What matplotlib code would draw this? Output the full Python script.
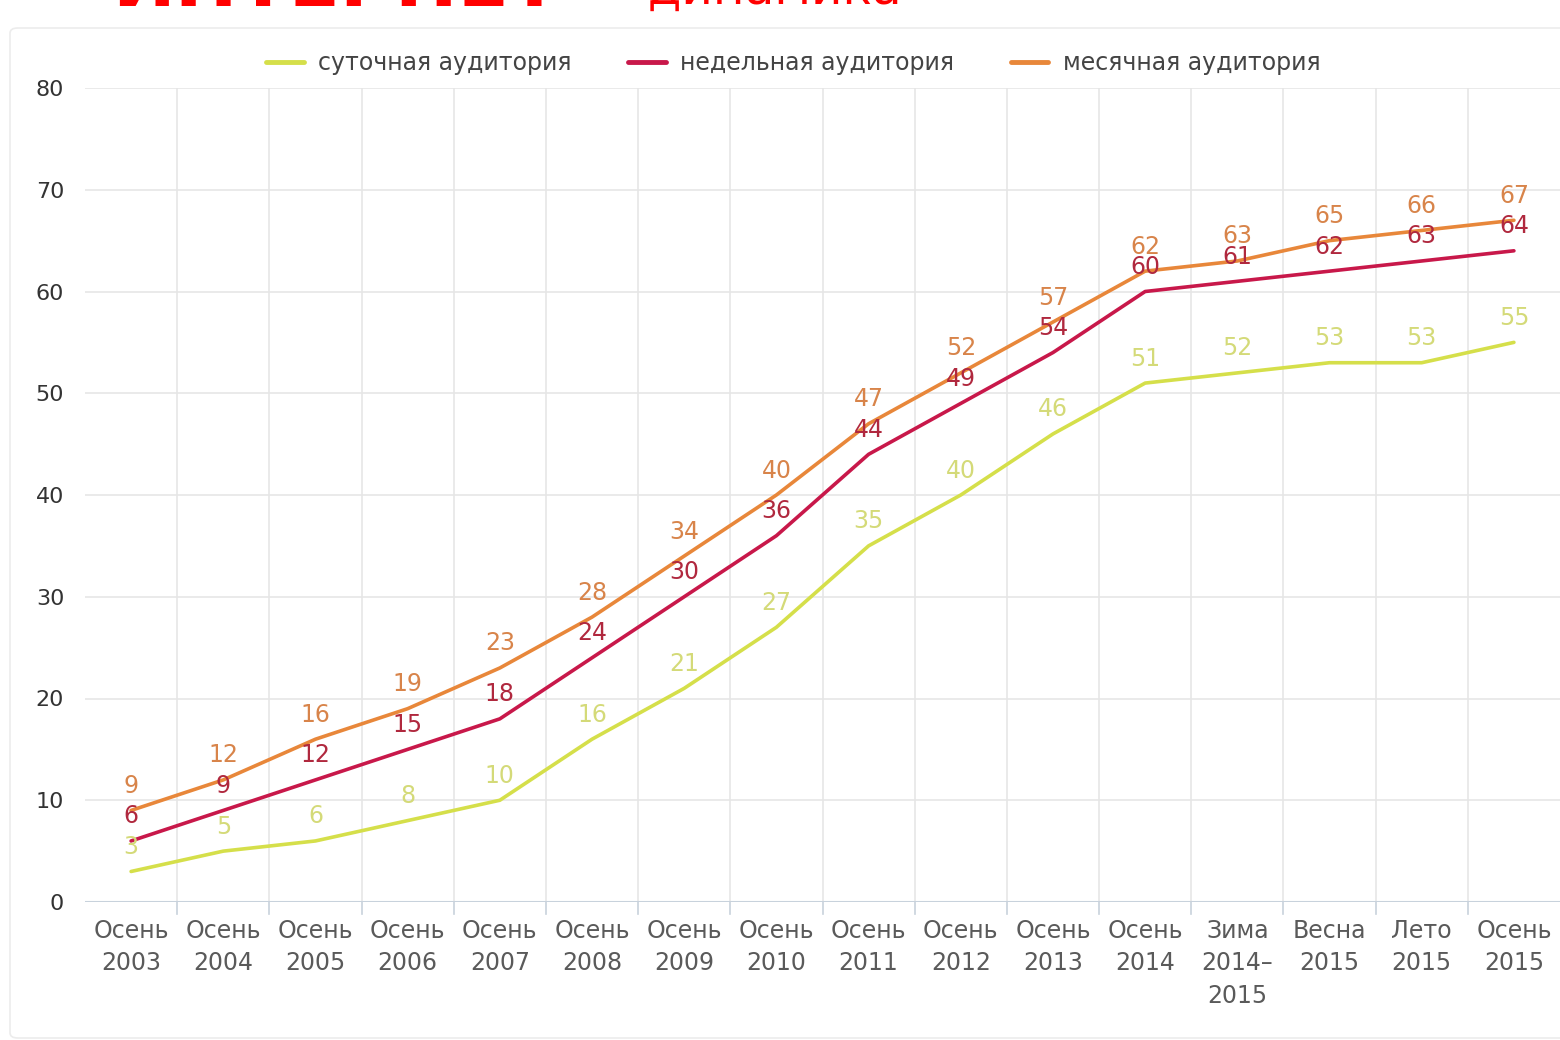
import matplotlib
matplotlib.use("Agg")
import matplotlib.pyplot as plt
from matplotlib.patches import FancyBboxPatch

categories = ["Осень\n2003", "Осень\n2004", "Осень\n2005", "Осень\n2006", "Осень\n2007",
              "Осень\n2008", "Осень\n2009", "Осень\n2010", "Осень\n2011", "Осень\n2012",
              "Осень\n2013", "Осень\n2014", "Зима\n2014–\n2015", "Весна\n2015", "Лето\n2015",
              "Осень\n2015"]
daily = [3, 5, 6, 8, 10, 16, 21, 27, 35, 40, 46, 51, 52, 53, 53, 55]
weekly = [6, 9, 12, 15, 18, 24, 30, 36, 44, 49, 54, 60, 61, 62, 63, 64]
monthly = [9, 12, 16, 19, 23, 28, 34, 40, 47, 52, 57, 62, 63, 65, 66, 67]
series_names = ["суточная аудитория", "недельная аудитория", "месячная аудитория"]

plt.rcParams['font.family'] = ['DejaVu Sans']

fig = plt.figure(figsize=(15.6, 10.4), dpi=100)
fig.patch.set_facecolor("white")

# light panel border (behind everything)
panel = FancyBboxPatch((10 / 1560, 2 / 1040), 1600 / 1560, 1010 / 1040,
                       boxstyle="round,pad=0,rounding_size=0.005",
                       transform=fig.transFigure, facecolor="white",
                       edgecolor="#ececec", linewidth=1.2, zorder=-10)
fig.patches.append(panel)

ax = fig.add_axes([85 / 1560, 1 - 902 / 1040, 1475 / 1560, (902 - 88) / 1040])
ax.set_zorder(1)
ax.set_facecolor("none")
x = list(range(len(categories)))

line_colors = ["#d5df4a", "#c8184a", "#e8873a"]
label_colors = ["#d4da78", "#b0283e", "#d8844a"]

for vals, lc, tc, name in zip([daily, weekly, monthly], line_colors, label_colors, series_names):
    ax.plot(x, vals, color=lc, lw=2.6, label=name, zorder=3, solid_capstyle='round')
    for xi, v in zip(x, vals):
        ax.annotate(str(v), (xi, v), xytext=(0, 9), textcoords="offset points",
                    ha="center", va="bottom", fontsize=17, color=tc, zorder=4)

ax.set_xlim(-0.5, len(categories) - 0.5)
ax.set_ylim(0, 80)
ax.set_yticks(range(0, 81, 10))
ax.set_xticks(x)
ax.set_xticklabels(categories, fontsize=17, color="#5a5a5a", linespacing=1.45)
ax.tick_params(axis='x', length=0, pad=12)
ax.tick_params(axis='y', length=0, pad=15, labelsize=16, labelcolor="#333333")

# horizontal grid
for yv in range(10, 81, 10):
    ax.axhline(yv, color="#e6e6e6", lw=1.2, zorder=1)
# vertical grid at category boundaries
for b in range(1, len(categories)):
    ax.plot([b - 0.5, b - 0.5], [0, 80], color="#e6e6e6", lw=1.2, zorder=1)
    ax.plot([b - 0.5, b - 0.5], [0, -1.2], color="#c8d2dc", lw=1.2, zorder=1, clip_on=False)
ax.axhline(0, color="#c8d2dc", lw=1.5, zorder=2)

for s in ax.spines.values():
    s.set_visible(False)

leg = ax.legend(loc="lower center", bbox_to_anchor=(0.48, 1.0), ncol=3, frameon=False,
                fontsize=17, handlelength=1.6, columnspacing=2.4, handletextpad=0.6,
                borderaxespad=0.15)
for t in leg.get_texts():
    t.set_color("#444444")
for h in leg.get_lines():
    h.set_linewidth(3.5)

# cut-off title at the top
fig.text(112 / 1560, 1 - 6 / 1040, "ИНТЕРНЕТ", color="#ff0000", fontsize=54,
         fontweight="bold", ha="left", va="baseline")
fig.text(608 / 1560, 1 - 4 / 1040, "– динамика", color="#ff0000", fontsize=35,
         ha="left", va="baseline")

fig.savefig("out.png", dpi=100, facecolor="white")
